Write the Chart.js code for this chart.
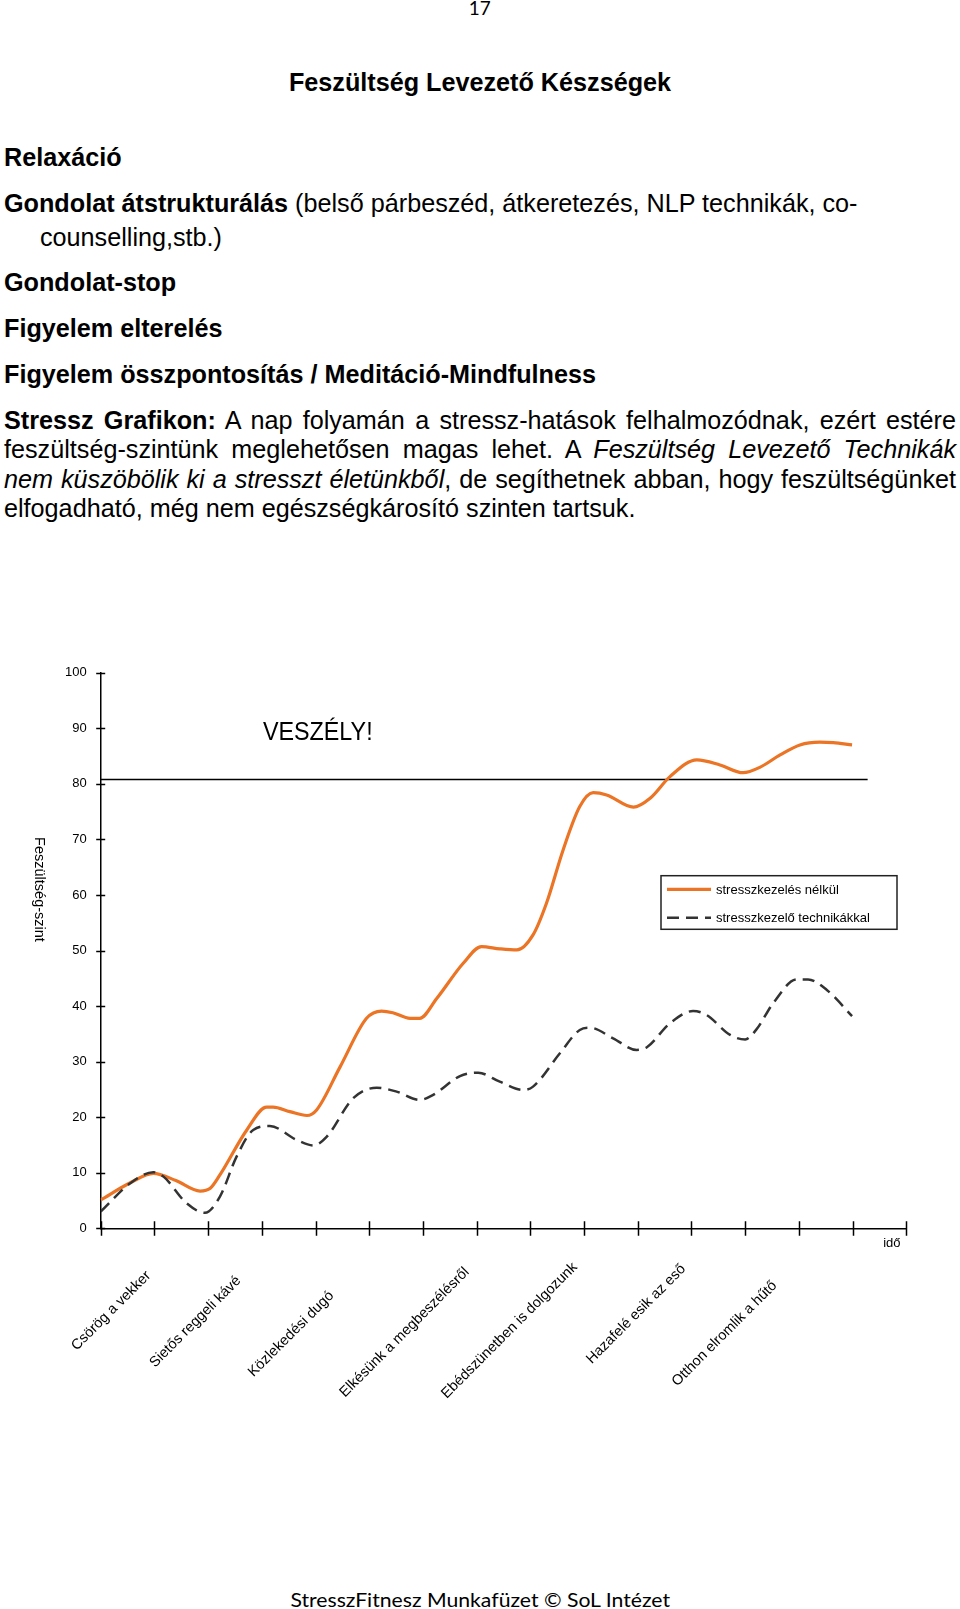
<!DOCTYPE html>
<html lang="hu">
<head>
<meta charset="utf-8">
<title>Feszültség Levezető Készségek</title>
<script src="https://cdn.jsdelivr.net/npm/chart.js@4.4.1/dist/chart.umd.min.js"></script>
<style>
html, body { margin: 0; padding: 0; background: #fff; }
body { width: 960px; height: 1609px; position: relative; overflow: hidden; color: #000;
       font-family: "Liberation Sans", Arial, sans-serif; }
.ln { position: absolute; left: 4px; font-size: 25.2px; line-height: 25.2px; white-space: nowrap; }
.b { font-weight: bold; }
.j { width: 952px; text-align: justify; text-align-last: justify; white-space: normal; }
.c { left: 0; width: 960px; text-align: center; }
.cal { position: absolute; left: 0; width: 960px; text-align: center; font-family: Lato, "Open Sans", sans-serif;
       line-height: 1; white-space: nowrap; }
.cal span { display: inline-block; transform-origin: 50% 0; }
#chart { position: absolute; left: 0; top: 630px; }
</style>
</head>
<body>
<div class="cal" style="top:-1.4px;font-size:18.5px"><span data-w="21.5">17</span></div>
<div class="ln b c" style="top:69.7px">Feszültség Levezető Készségek</div>

<div class="ln b" style="top:144.7px">Relaxáció</div>
<div class="ln" style="top:190.7px"><b>Gondolat átstrukturálás</b> (belső párbeszéd, átkeretezés, NLP technikák, co-</div>
<div class="ln" style="top:225.2px;left:40px">counselling,stb.)</div>
<div class="ln b" style="top:270.2px">Gondolat-stop</div>
<div class="ln b" style="top:316.2px">Figyelem elterelés</div>
<div class="ln b" style="top:362.2px">Figyelem összpontosítás / Meditáció-Mindfulness</div>
<div class="ln j" style="top:407.7px"><b>Stressz Grafikon:</b> A nap folyamán a stressz-hatások felhalmozódnak, ezért estére</div>
<div class="ln j" style="top:437.3px">feszültség-szintünk meglehetősen magas lehet. A <i>Feszültség Levezető Technikák</i></div>
<div class="ln j" style="top:467px"><i>nem küszöbölik ki a stresszt életünkből</i>, de segíthetnek abban, hogy feszültségünket</div>
<div class="ln" style="top:496.1px">elfogadható, még nem egészségkárosító szinten tartsuk.</div>

<canvas id="chart" width="960" height="820"></canvas>

<div class="cal" style="top:1589.8px;font-size:19px"><span data-w="379">StresszFitnesz Munkafüzet © SoL Intézet</span></div>

<script>
// ADATOK (ido = az idotengely beosztasai, szint = feszultseg-szint)
var idoNelkul = [0, 0.55, 0.98, 1.4, 1.85, 2.04, 2.22, 2.72, 3.09, 3.21, 3.52, 3.84, 4.02, 4.46,
    4.95, 5.23, 5.44, 5.76, 5.94, 6.26, 6.75, 7.09, 7.43, 7.75, 8.05, 8.30, 8.61, 8.92, 9.17, 9.42,
    9.92, 10.23, 10.60, 11.10, 11.53, 11.96, 12.28, 12.65, 13.02, 13.39, 13.64, 13.99];
var szintNelkul = [5.1, 8.2, 9.9, 8.6, 6.7, 7.2, 9.6, 17.7, 21.8, 21.8, 21.0, 20.3, 21.3, 29.1,
    37.8, 39.1, 38.8, 37.8, 37.8, 41.4, 47.7, 50.7, 50.3, 50.1, 52.8, 58.5, 68.1, 75.9, 78.4, 78.0,
    75.8, 77.4, 81.3, 84.3, 83.4, 82.0, 83.0, 85.2, 87.0, 87.5, 87.4, 87.0];

var idoTechnikaval = [0, 0.55, 0.98, 1.17, 1.60, 1.94, 2.22, 2.53, 2.84, 3.15, 3.65, 3.96, 4.21,
    4.70, 5.14, 5.51, 5.94, 6.19, 6.69, 7.03, 7.43, 7.87, 8.05, 8.55, 8.92, 9.11, 9.54, 9.98, 10.17,
    10.60, 11.03, 11.28, 11.72, 12.00, 12.21, 12.52, 12.96, 13.17, 13.52, 13.99];
var szintTechnikaval = [3.0, 8.1, 10.1, 9.3, 4.5, 2.8, 5.7, 12.9, 17.7, 18.4, 15.9, 14.9, 16.5,
    23.4, 25.3, 24.6, 23.1, 24.0, 27.4, 28.0, 26.4, 24.9, 25.5, 31.5, 35.7, 36.1, 34.2, 32.1, 32.6,
    36.9, 39.1, 38.4, 34.8, 34.0, 35.8, 40.5, 44.8, 44.8, 42.9, 38.2];

var veszelyHatar = 80.8;
var veszelyIdo = [0, 14.28];

var sorozatNevek = ["stresszkezelés nélkül", "stresszkezelő technikákkal"];
var esemenyek = ["Csörög a vekker", "Sietős reggeli kávé", "Közlekedési dugó", "Elkésünk a megbeszélésről",
    "Ebédszünetben is dolgozunk", "Hazafelé esik az eső", "Otthon elromlik a hűtő"];
var esemenyIdo = [0.89, 2.57, 4.30, 6.82, 8.83, 10.85, 12.55];

function pontok(xs, ys) {
    return xs.map(function(x, i) { return { x: x, y: ys[i] }; });
}

var FONT = '"Liberation Sans", Arial, sans-serif';
Chart.defaults.font.family = FONT;
Chart.defaults.color = '#000';

//RAJZOLO PLUGIN: tengely jelek, feliratok, jelmagyarazat
var rajzPlugin = {
    id: 'rajz',
    afterDraw: function(chart, args, opts) {
        var ctx = chart.ctx;
        var xs = chart.scales.x, ys = chart.scales.y;
        var x0 = xs.getPixelForValue(0), y0 = ys.getPixelForValue(0);
        ctx.save();

        // tick marks across the axes
        ctx.strokeStyle = '#000';
        ctx.lineWidth = 1.5;
        ctx.beginPath();
        xs.ticks.forEach(function(t) {
            var px = Math.round(xs.getPixelForValue(t.value)) + 0.5;
            ctx.moveTo(px, y0 - 7);
            ctx.lineTo(px, y0 + 7.5);
        });
        ys.ticks.forEach(function(t) {
            var py = Math.round(ys.getPixelForValue(t.value)) + 0.5;
            ctx.moveTo(x0 - 4.5, py);
            ctx.lineTo(x0 + 4.5, py);
        });
        ctx.stroke();

        // event labels, 45 degrees
        ctx.fillStyle = '#000';
        ctx.font = '14.5px ' + FONT;
        ctx.textAlign = 'right';
        ctx.textBaseline = 'middle';
        esemenyek.forEach(function(txt, i) {
            ctx.save();
            ctx.translate(xs.getPixelForValue(esemenyIdo[i]), y0 + opts.esemenyLe[i]);
            ctx.rotate(-Math.PI / 4);
            ctx.fillText(txt, 0, 0);
            ctx.restore();
        });

        // ido
        ctx.textAlign = 'center';
        ctx.font = '13px ' + FONT;
        ctx.fillText('idő', xs.getPixelForValue(14.73), y0 + 15);

        // y axis title
        ctx.save();
        ctx.translate(opts.yCim.x, opts.yCim.y);
        ctx.rotate(Math.PI / 2);
        ctx.font = '14.5px ' + FONT;
        ctx.fillText('Feszültség-szint', 0, 0);
        ctx.restore();

        // VESZELY!
        ctx.save();
        ctx.translate(xs.getPixelForValue(3.02), ys.getPixelForValue(87.8));
        ctx.scale(0.88, 1);
        ctx.font = '26.5px ' + FONT;
        ctx.textAlign = 'left';
        ctx.textBaseline = 'alphabetic';
        ctx.fillText('VESZÉLY!', 0, 0);
        ctx.restore();

        // legend
        var lg = opts.legend;
        ctx.strokeStyle = '#222';
        ctx.lineWidth = 1.5;
        ctx.strokeRect(lg.x, lg.y, lg.w, lg.h);
        ctx.font = '13px ' + FONT;
        ctx.textAlign = 'left';
        chart.data.datasets.filter(function(d) { return d.legendSor !== undefined; })
            .sort(function(a, b) { return a.legendSor - b.legendSor; })
            .forEach(function(d, i) {
                var ly = lg.y + 13.6 + i * 28.4;
                ctx.beginPath();
                ctx.setLineDash(d.borderDash || []);
                ctx.strokeStyle = d.borderColor;
                ctx.lineWidth = d.borderWidth;
                ctx.moveTo(lg.x + 6, ly);
                ctx.lineTo(lg.x + 50, ly);
                ctx.stroke();
                ctx.setLineDash([]);
                ctx.fillText(d.label, lg.x + 55, ly + 1);
            });
        ctx.restore();
    }
};

var ctx = document.getElementById('chart').getContext('2d');
var stresszChart = new Chart(ctx, {
    type: 'line',
    data: {
        datasets: [{
            label: sorozatNevek[1],
            legendSor: 1,
            data: pontok(idoTechnikaval, szintTechnikaval),
            borderColor: '#333333',
            borderWidth: 2.5,
            borderDash: [12, 7],
            cubicInterpolationMode: 'monotone',
            pointRadius: 0,
            fill: false
        }, {
            label: sorozatNevek[0],
            legendSor: 0,
            data: pontok(idoNelkul, szintNelkul),
            borderColor: '#EB7425',
            borderWidth: 3.2,
            cubicInterpolationMode: 'monotone',
            pointRadius: 0,
            fill: false
        }, {
            label: 'VESZÉLY!',
            data: pontok(veszelyIdo, [veszelyHatar, veszelyHatar]),
            borderColor: '#000',
            borderWidth: 1.5,
            pointRadius: 0,
            fill: false
        }]
    },
    options: {
        animation: false,
        responsive: false,
        devicePixelRatio: 1,
        layout: { padding: { left: 0, right: 53.7, top: 42.7, bottom: 0 } },
        plugins: {
            legend: { display: false },
            tooltip: { enabled: false },
            rajz: {
                esemenyLe: [45.2, 50.2, 65.2, 41.7, 36.7, 38.5, 55.2],
                yCim: { x: 39.3, y: 259.5 },
                legend: { x: 661, y: 245.7, w: 236, h: 53.6 }
            }
        },
        scales: {
            x: {
                type: 'linear',
                min: 0,
                max: 15,
                ticks: { stepSize: 1, display: false, autoSkip: false },
                grid: { display: false, drawTicks: false },
                border: { color: '#000', width: 1.5 },
                afterFit: function(s) { s.height = 221.7; }
            },
            y: {
                min: 0,
                max: 100,
                ticks: { stepSize: 10, padding: 14, font: { size: 13 } },
                grid: { display: false, drawTicks: false },
                border: { color: '#000', width: 1.5 },
                afterFit: function(s) { s.width = 100.7; }
            }
        }
    },
    plugins: [rajzPlugin]
});

// Calibri helyett Lato: szelesseg igazitasa
document.querySelectorAll('.cal span').forEach(function(el) {
    var w = parseFloat(el.getAttribute('data-w'));
    el.style.transform = 'scaleX(' + (w / el.offsetWidth).toFixed(3) + ')';
});
</script>
</body>
</html>
